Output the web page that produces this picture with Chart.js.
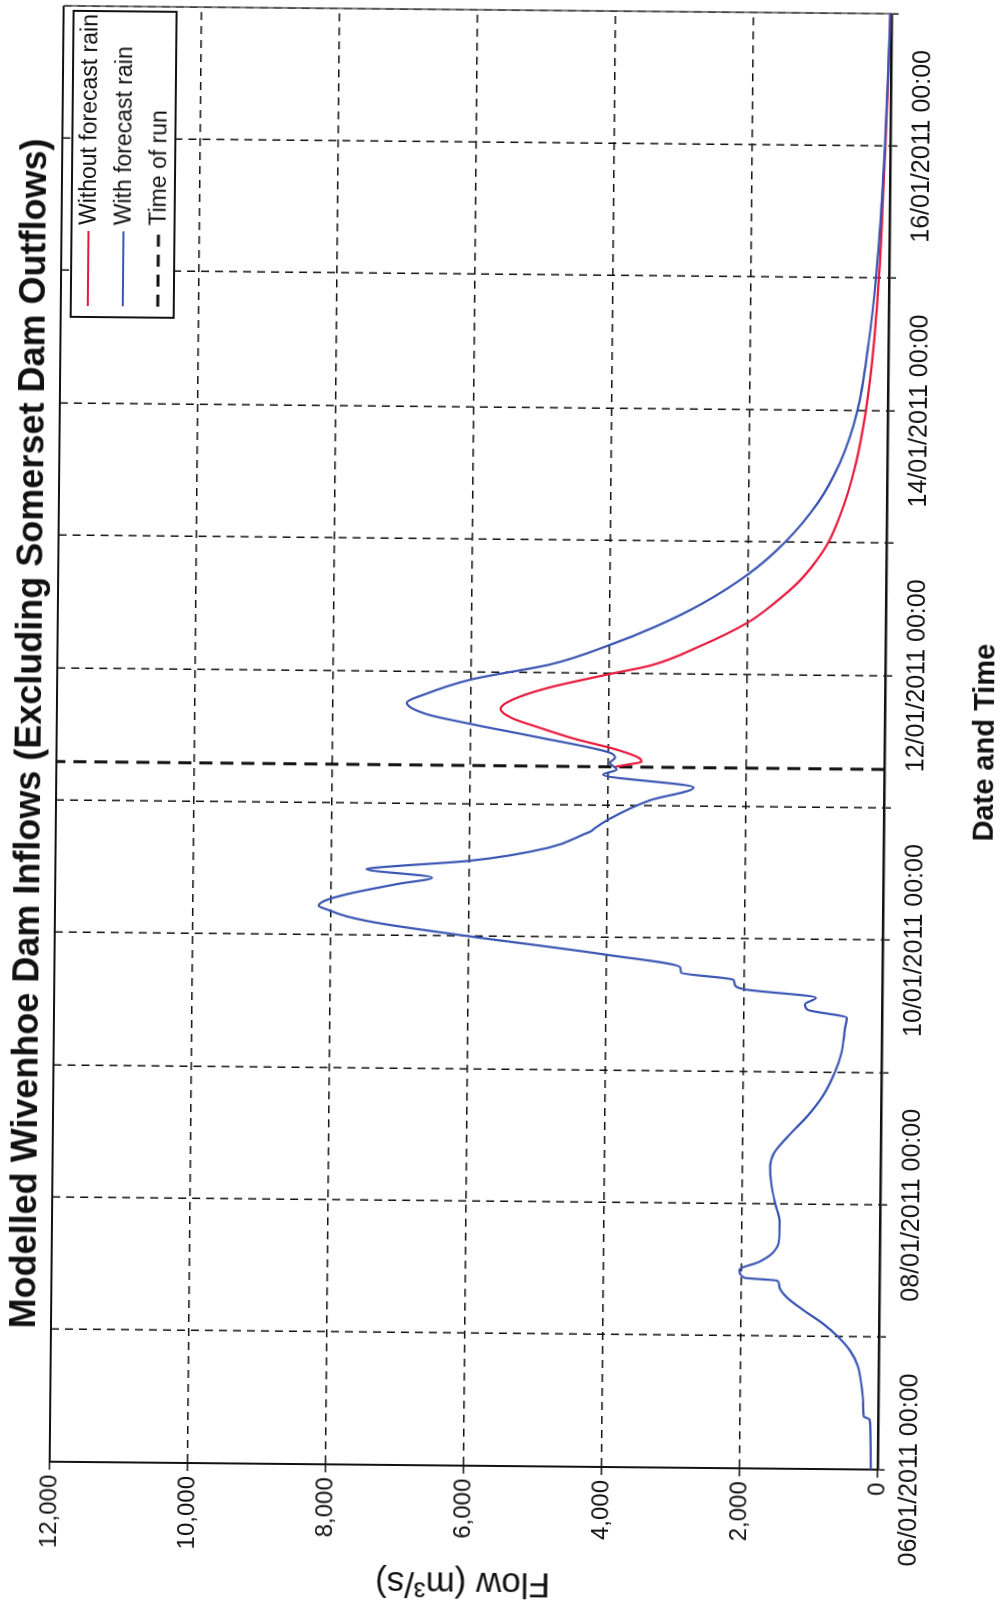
<!DOCTYPE html>
<html><head><meta charset="utf-8">
<script src="https://cdn.jsdelivr.net/npm/chart.js@4.4.0/dist/chart.umd.min.js"></script>
<style>
html,body{margin:0;padding:0;background:#fff;width:1005px;height:1609px;overflow:hidden;}
#wrap{position:absolute;left:-302px;top:302px;width:1609px;height:1005px;transform:rotate(-89.45deg);transform-origin:50% 50%;}
canvas{display:block;}
</style></head><body>
<div id="wrap"><canvas id="c" width="1609" height="1005"></canvas></div>
<script>
const titleText = 'Modelled Wivenhoe Dam Inflows (Excluding Somerset Dam Outflows)';
const xAxisTitle = 'Date and Time';
const yAxisTitle = 'Flow (m³/s)';
const seriesNames = ['Without forecast rain', 'With forecast rain', 'Time of run'];
const dateLabels = ['06/01/2011 00:00', '08/01/2011 00:00', '10/01/2011 00:00', '12/01/2011 00:00', '14/01/2011 00:00', '16/01/2011 00:00'];
const flowMax = 12000, flowStep = 2000, dayMax = 11;
const timeOfRun = 5.29; // days after 06/01/2011 00:00

// "With forecast rain" (days after 06/01/2011 00:00, flow m3/s)
const daysWith = [0.00,0.30,0.38,0.40,0.50,0.65,0.78,0.90,1.00,1.10,1.20,1.30,1.38,1.42,1.44,1.50,1.56,1.63,1.73,1.87,
  2.00,2.15,2.28,2.38,2.52,2.67,2.82,3.00,3.15,3.33,3.41,3.47,3.51,3.56,3.62,3.66,3.69,3.74,3.78,3.87,
  4.00,4.09,4.14,4.19,4.22,4.26,4.31,4.39,4.44,4.50,4.51,4.57,4.675,4.78,4.80,4.82,4.89,5.04,5.14,5.23,
  5.27,5.32,5.36,5.40,5.51,5.61,5.675,5.76,5.82,5.94,6.06,6.21,6.35,6.53,6.755,7.00,7.30,7.60,8.00,8.50,
  9.00,9.50,10.00,10.50,11.00];
const flowWith = [100,110,125,210,220,250,300,420,590,815,1100,1350,1450,1480,1960,2030,1750,1550,1460,1455,
  1520,1580,1600,1550,1330,1060,845,675,580,535,510,1080,1117,960,2010,2140,2160,2915,2930,4000,
  6000,7276,7760,8050,8180,8080,7760,7034,6540,7490,7380,6000,4850,4340,4250,4200,4000,3393,2762,4073,
  3880,3976,3903,4000,5044,6063,6645,6930,6694,6000,4850,4000,3347,2662,2000,1470,1000,690,440,290,
  190,125,80,45,20];

// "Without forecast rain" (from time of run onward)
const daysWithout = [5.29,5.31,5.33,5.36,5.42,5.50,5.58,5.65,5.72,5.79,5.88,5.99,6.06,6.20,6.39,6.55,6.70,6.85,7.00,7.20,
  7.38,7.60,7.78,8.00,8.50,9.00,9.50,10.00,10.50,11.00];
const flowWithout = [3900,3700,3520,3560,3880,4500,5000,5400,5570,5400,4900,4000,3393,2723,2000,1590,1270,1030,843,680,
  565,455,385,318,212,148,105,72,42,18];

const FONT = "'Liberation Sans', Arial, Helvetica, sans-serif";
const BLUE = '#3a55b2', RED = '#e8193c', INK = '#111';
Chart.defaults.font.family = FONT;
Chart.defaults.color = INK;

const toXY = (xs, ys) => xs.map((x, i) => ({x: x, y: ys[i]}));

const framePlugin = {
  id: 'frame',
  beforeDatasetsDraw(chart) {
    const {ctx, chartArea: a} = chart;
    ctx.save();
    ctx.strokeStyle = INK; ctx.lineWidth = 2;
    ctx.beginPath(); ctx.moveTo(a.left, a.top); ctx.lineTo(a.right, a.top); ctx.stroke();
    ctx.strokeStyle = '#555'; ctx.lineWidth = 1.5;
    ctx.beginPath(); ctx.moveTo(a.right, a.top); ctx.lineTo(a.right, a.bottom); ctx.stroke();
    ctx.restore();
  }
};

const titlePlugin = {
  id: 'ctitle',
  afterDraw(chart) {
    const {ctx, chartArea: a} = chart;
    ctx.save();
    ctx.font = 'bold 36px ' + FONT;
    ctx.fillStyle = INK; ctx.textAlign = 'center'; ctx.textBaseline = 'middle';
    ctx.fillText(titleText, (a.left + a.right) / 2, 30);
    ctx.restore();
  }
};

const legendPlugin = {
  id: 'clegend',
  afterDraw(chart) {
    const {ctx, chartArea: a} = chart;
    const w = 306, h = 103;
    const x0 = a.right - 5 - w, y0 = a.top + 10;
    ctx.save();
    ctx.fillStyle = '#fff'; ctx.fillRect(x0, y0, w, h);
    ctx.strokeStyle = INK; ctx.lineWidth = 2; ctx.strokeRect(x0, y0, w, h);
    const items = [
      {text: seriesNames[0], color: RED, dash: [], width: 2},
      {text: seriesNames[1], color: BLUE, dash: [], width: 2},
      {text: seriesNames[2], color: INK, dash: [12, 8], width: 3}
    ];
    ctx.font = '23px ' + FONT; ctx.textBaseline = 'middle'; ctx.textAlign = 'left';
    items.forEach((it, i) => {
      const yy = y0 + 17 + i * 35;
      ctx.strokeStyle = it.color; ctx.lineWidth = it.width; ctx.setLineDash(it.dash);
      ctx.beginPath(); ctx.moveTo(x0 + 11, yy); ctx.lineTo(x0 + 86, yy); ctx.stroke();
      ctx.setLineDash([]);
      ctx.fillStyle = INK; ctx.fillText(it.text, x0 + 92, yy + 1);
    });
    ctx.restore();
  }
};

new Chart(document.getElementById('c').getContext('2d'), {
  type: 'line',
  data: {
    datasets: [
      {label: seriesNames[1], data: toXY(daysWith, flowWith), borderColor: BLUE, borderWidth: 2.2,
       pointRadius: 0, fill: false, cubicInterpolationMode: 'monotone'},
      {label: seriesNames[0], data: toXY(daysWithout, flowWithout), borderColor: RED, borderWidth: 2.2,
       pointRadius: 0, fill: false, cubicInterpolationMode: 'monotone'},
      {label: seriesNames[2], data: [{x: timeOfRun, y: 0}, {x: timeOfRun, y: flowMax}], borderColor: INK,
       borderWidth: 3, borderDash: [13, 8], pointRadius: 0, fill: false}
    ]
  },
  options: {
    responsive: false, animation: false, devicePixelRatio: 1,
    layout: {padding: {top: 56, right: 5, left: 0, bottom: 0}},
    plugins: {legend: {display: false}, tooltip: {enabled: false}, title: {display: false}},
    scales: {
      x: {
        type: 'linear', min: 0, max: dayMax,
        ticks: {stepSize: 1, autoSkip: false, maxRotation: 0, minRotation: 0, padding: 10, color: INK,
                font: {size: 25}, callback: (v) => (v % 2 === 0 && dateLabels[v / 2]) ? dateLabels[v / 2] : ''},
        grid: {color: INK, lineWidth: 1.5, tickLength: 7, tickColor: INK, tickWidth: 1.5},
        border: {display: true, color: INK, width: 2.5, dash: [8, 6]},
        title: {display: true, text: xAxisTitle, color: INK, font: {size: 29, weight: 'bold'}, padding: {top: 0, bottom: 3}},
        afterFit: (s) => { s.height = 121; }
      },
      y: {
        min: 0, max: flowMax,
        ticks: {stepSize: flowStep, padding: 5, color: INK, font: {size: 24},
                callback: (v) => v.toLocaleString('en-US')},
        grid: {color: INK, lineWidth: 1.5, tickLength: 8, tickColor: INK, tickWidth: 1.5},
        border: {display: true, color: INK, width: 2, dash: [8, 6]},
        title: {display: true, text: yAxisTitle, color: INK, font: {size: 35}, padding: {top: 5, bottom: 0}},
        afterFit: (s) => { s.width = 143; }
      }
    }
  },
  plugins: [framePlugin, titlePlugin, legendPlugin]
});
</script>
</body></html>
